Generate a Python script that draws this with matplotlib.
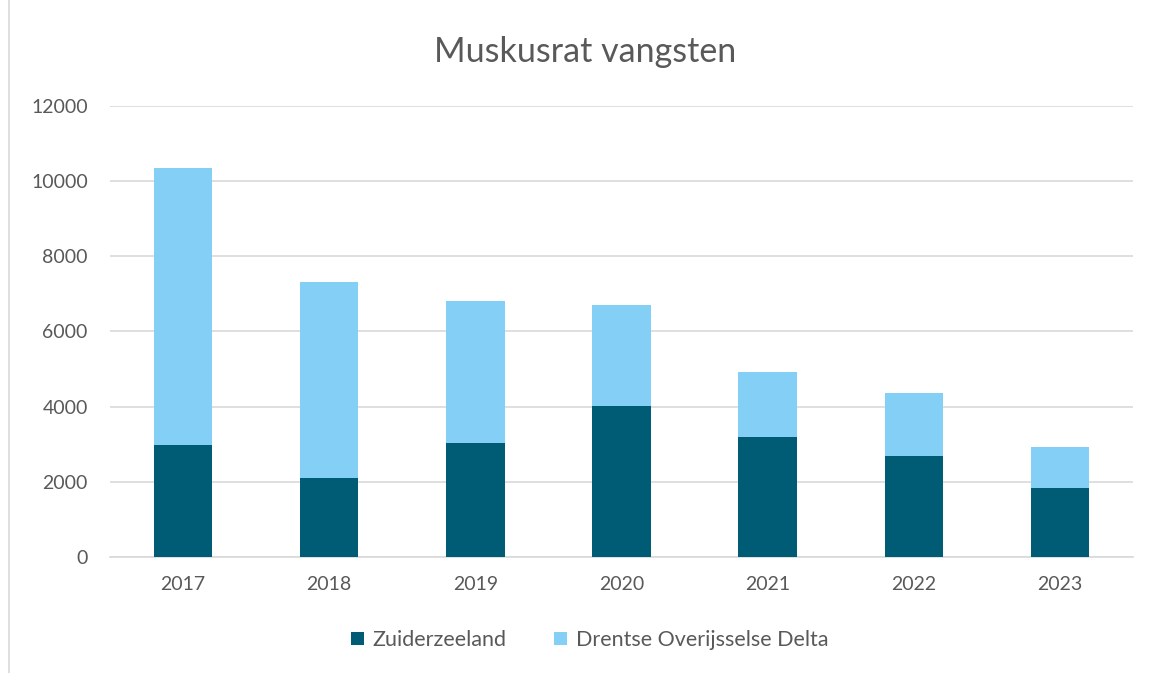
import numpy as np
import matplotlib
matplotlib.use('Agg')
import matplotlib.pyplot as plt
from matplotlib.patches import Rectangle

# ---------------------------------------------------------------------------
# Data
# ---------------------------------------------------------------------------
YEARS = ["2017", "2018", "2019", "2020", "2021", "2022", "2023"]
ZUIDERZEELAND = [2985, 2090, 3040, 4010, 3190, 2695, 1845]
TOTALS = [10360, 7310, 6800, 6710, 4930, 4360, 2930]
DRENTSE_OD = [t - z for t, z in zip(TOTALS, ZUIDERZEELAND)]

DARK = "#005c75"
LIGHT = "#83cff6"
TEXT = "#595959"
GRID = "#d9d9d9"

plt.rcParams['font.family'] = ['Lato', 'DejaVu Sans']

fig = plt.figure(figsize=(11.55, 6.73), dpi=100)
ax = fig.add_axes([0.0952, 0.1724, 0.8857, 0.6701])

x = np.arange(len(YEARS))
ax.bar(x, ZUIDERZEELAND, width=0.4, color=DARK, label="Zuiderzeeland", zorder=3)
ax.bar(x, DRENTSE_OD, width=0.4, bottom=ZUIDERZEELAND, color=LIGHT,
       label="Drentse Overijsselse Delta", zorder=3)

ax.set_xlim(-0.5, len(YEARS) - 0.5)
ax.set_ylim(0, 12000)
ax.set_yticks(np.arange(0, 12001, 2000))
ax.set_xticks(x)
ax.set_xticklabels(YEARS)
ax.yaxis.grid(True, color=GRID, linewidth=1.2, zorder=0)
ax.set_axisbelow(True)
for side in ["top", "right", "left"]:
    ax.spines[side].set_visible(False)
ax.spines["bottom"].set_color(GRID)
ax.spines["bottom"].set_linewidth(1.2)
ax.tick_params(axis="both", length=0, labelsize=14, colors=TEXT)
ax.tick_params(axis="y", pad=16)
ax.tick_params(axis="x", pad=14)

fig.text(0.507, 0.922, "Muskusrat vangsten", ha="center", va="center",
         fontsize=24.5, color=TEXT)

ax.legend(loc="center", bbox_to_anchor=(0.469, -0.184), ncol=2,
          frameon=False, fontsize=15.5, labelcolor=TEXT, handlelength=0.6,
          handleheight=0.6, handletextpad=0.4, columnspacing=2.2)

# outer chart border
fig.patches.append(Rectangle((0.008, -0.01), 1.2, 1.2, transform=fig.transFigure,
                             fill=False, edgecolor=GRID, linewidth=1.2))

fig.savefig("out.png", dpi=100)
